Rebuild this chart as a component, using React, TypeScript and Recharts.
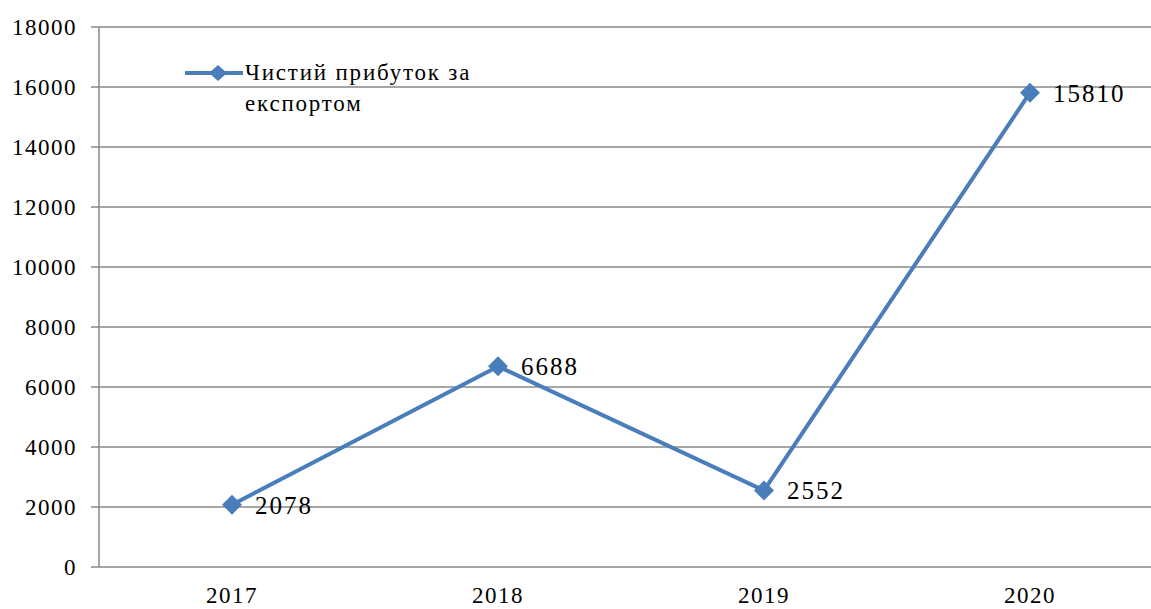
import { CartesianGrid, LabelList, Line, LineChart, XAxis, YAxis } from 'recharts'

const years = ['2017', '2018', '2019', '2020']
const profit = [2078, 6688, 2552, 15810]
const yTicks = [0, 2000, 4000, 6000, 8000, 10000, 12000, 14000, 16000, 18000]
const seriesName = ['Чистий прибуток за', 'експортом']

const data = years.map((year, i) => ({ pos: i + 0.5, year, value: profit[i] }))

const font = '"Liberation Serif"'
const blue = '#4A7EBB'
const grey = '#898989'

const Diamond = (props: any) => {
  const { cx, cy } = props
  if (cx == null || cy == null) return null
  const r = 10
  return (
    <path
      d={`M${cx},${cy - r} L${cx + r},${cy} L${cx},${cy + r} L${cx - r},${cy} Z`}
      fill={blue}
    />
  )
}

const LegendBox = () => (
  <div
    style={{
      position: 'absolute',
      left: 185,
      top: 57,
      display: 'flex',
      alignItems: 'flex-start',
      fontFamily: font,
      fontSize: 23,
      color: '#000',
    }}
  >
    <svg width={60} height={30} style={{ flex: 'none' }}>
      <line x1={0} y1={16} x2={58} y2={16} stroke={blue} strokeWidth={4} />
      <path d="M33,8 L42,16 L33,24 L24,16 Z" fill={blue} />
    </svg>
    <div style={{ lineHeight: '31px', letterSpacing: 1.8 }}>
      {seriesName[0]}
      <br />
      {seriesName[1]}
    </div>
  </div>
)

const tickStyle = { fill: '#000', fontSize: 23, fontFamily: font, letterSpacing: 1.5 }

export default function App() {
  return (
    <div style={{ position: 'fixed', left: 0, top: 0, width: 1151, height: 609, overflow: 'hidden', background: '#fff' }}>
      <LineChart width={1180} height={620} data={data} margin={{ top: 27, right: 17, bottom: 0, left: 0 }}>
        <CartesianGrid vertical={false} stroke={grey} strokeWidth={1.5} xAxisId="ticks" />
        <XAxis
          xAxisId="ticks"
          type="number"
          dataKey="pos"
          domain={[0, 4]}
          ticks={[0, 1, 2, 3, 4]}
          tickFormatter={() => ''}
          height={0}
          tickSize={10}
          stroke={grey}
          strokeWidth={1.5}
        />
        <XAxis
          xAxisId="labels"
          type="number"
          dataKey="pos"
          domain={[0, 4]}
          ticks={data.map((d) => d.pos)}
          tickFormatter={(v: number) => years[Math.floor(v)]}
          height={53}
          axisLine={false}
          tickLine={false}
          tickSize={0}
          tickMargin={20}
          tick={tickStyle}
        />
        <YAxis
          width={99}
          domain={[0, 18000]}
          ticks={yTicks}
          interval={0}
          tickSize={8}
          tickMargin={14}
          stroke={grey}
          strokeWidth={1.5}
          tick={tickStyle}
        />
        <Line
          xAxisId="ticks"
          type="linear"
          dataKey="value"
          stroke={blue}
          strokeWidth={4}
          dot={<Diamond />}
          activeDot={false}
          isAnimationActive={false}
        >
          <LabelList
            dataKey="value"
            position="right"
            offset={23}
            fill="#000"
            fontFamily={font}
            fontSize={25}
            letterSpacing={2}
          />
        </Line>
      </LineChart>
      <LegendBox />
    </div>
  )
}
